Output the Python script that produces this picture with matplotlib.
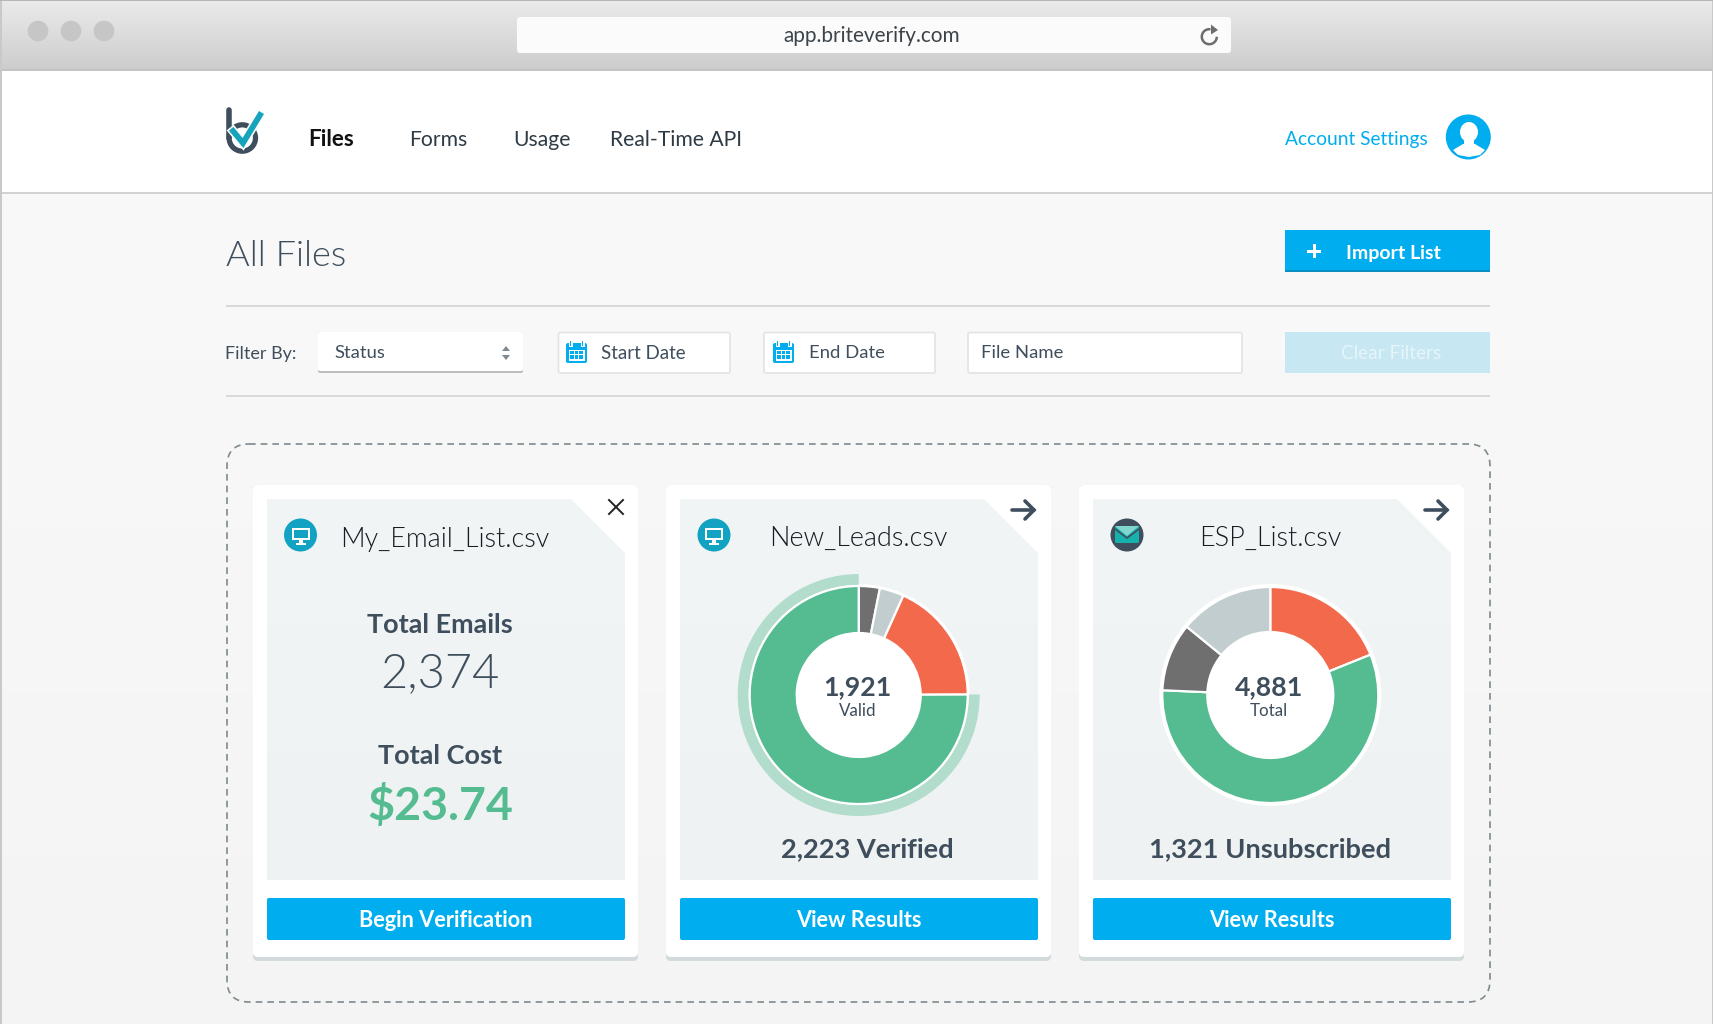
import numpy as np
import matplotlib
matplotlib.use('Agg')
import matplotlib.pyplot as plt
from matplotlib.patches import Rectangle, FancyBboxPatch, Circle, Polygon, Ellipse

plt.rcParams['font.family'] = ['Lato', 'DejaVu Sans']

W = 1713
H = 1024

# chart data
leads_values = [80, 92, 466, 1921]
leads_ring = [1921, 638]
esp_values = [923, 2772, 498, 688]

nav_labels = ['Files', 'Forms', 'Usage', 'Real-Time API']
nav_x = [308, 409, 513, 610]
card_titles = ['My_Email_List.csv', 'New_Leads.csv', 'ESP_List.csv']
card_buttons = ['Begin Verification', 'View Results', 'View Results']

BLUE = '#00aeef'
DARK = '#3f4e5c'
GREEN = '#55bb90'
RING = '#b2dccb'
ORANGE = '#f3694c'
GREY = '#6f6f6f'
LIGHT = '#c1cdcf'

fig = plt.figure(figsize=(W / 100, H / 100), dpi=100)
ax = fig.add_axes([0, 0, 1, 1])
ax.set_xlim(0, W)
ax.set_ylim(H, 0)
ax.axis('off')


def txt(x, y, s, px, color=DARK, ha='left', weight='normal', z=10):
    ax.text(x, y, s, fontsize=px * 0.72, color=color, ha=ha, va='center', fontweight=weight, zorder=z)


def box(x0, y0, x1, y1, color, edge='none', lw=0, r=0, z=2, ls='-'):
    if r:
        p = FancyBboxPatch((x0, y0), x1 - x0, y1 - y0, boxstyle='round,pad=0,rounding_size=%s' % r,
                           fc=color, ec=edge, lw=lw, zorder=z, ls=ls)
    else:
        p = Rectangle((x0, y0), x1 - x0, y1 - y0, fc=color, ec=edge, lw=lw, zorder=z)
    ax.add_patch(p)
    return p


def gradient(x0, y0, x1, y1, c0, c1, z=1, clip=None):
    g = np.linspace(0, 1, 256).reshape(-1, 1)
    rgb0 = np.array(matplotlib.colors.to_rgb(c0))
    rgb1 = np.array(matplotlib.colors.to_rgb(c1))
    img = (rgb0 + (rgb1 - rgb0) * g)[:, None, :]
    im = ax.imshow(img, extent=(x0, x1, y1, y0), aspect='auto', zorder=z, interpolation='bilinear')
    if clip is not None:
        im.set_clip_path(clip)
    ax.set_xlim(0, W)
    ax.set_ylim(H, 0)


def calendar(cx, cy):
    box(cx - 10.5, cy - 9, cx + 10.5, cy + 11, BLUE, r=2, z=5)
    box(cx - 8, cy - 2.5, cx + 8, cy + 8.5, 'white', z=6)
    for gx in [-6, 6]:
        box(cx + gx - 2, cy - 11, cx + gx + 2, cy - 5, 'white', z=6)
        box(cx + gx - 0.9, cy - 11, cx + gx + 0.9, cy - 6, BLUE, z=7)
    for gx in [-4.5, 0, 4.5]:
        for gy in [0.5, 5]:
            box(cx + gx - 1.6, cy + gy - 1.6, cx + gx + 1.6, cy + gy + 1.6, BLUE, z=7)


def monitor(cx, cy):
    ax.add_patch(Circle((cx, cy), 16.5, fc='#12a3c2', ec='none', zorder=5))
    box(cx - 9, cy - 7, cx + 9, cy + 5, 'white', z=6)
    box(cx - 7, cy - 5, cx + 7, cy + 3, '#12a3c2', z=7)
    box(cx - 2, cy + 5, cx + 2, cy + 8, 'white', z=6)
    box(cx - 5, cy + 8, cx + 5, cy + 9.5, 'white', z=6)


def envelope(cx, cy):
    ax.add_patch(Circle((cx, cy), 16.5, fc=DARK, ec='none', zorder=5))
    box(cx - 12, cy - 9, cx + 12, cy + 8, '#16b1ac', r=1.5, z=6)
    ax.add_patch(Polygon([(cx - 12, cy - 9), (cx + 12, cy - 9), (cx, cy + 1)], fc='#7fd6cf', ec='none', zorder=7))
    ax.plot([cx - 12, cx, cx + 12], [cy - 6, cy + 3, cy - 6], color=DARK, lw=1.2, zorder=8)


def arrow(cx, cy):
    ax.plot([cx - 11, cx + 11], [cy, cy], color=DARK, lw=2.6, zorder=6, solid_capstyle='round')
    ax.plot([cx + 2, cx + 11, cx + 2], [cy - 9, cy, cy + 9], color=DARK, lw=2.6, zorder=6,
            solid_capstyle='round', solid_joinstyle='miter')


def donut(cx, cy, values, colors, outer, inner, halo, big, small, ring=None):
    half = 130
    a = fig.add_axes([(cx - half) / W, 1 - (cy + half) / H, 2 * half / W, 2 * half / H], zorder=3)
    a.patch.set_alpha(0)
    if ring is not None:
        a.pie(ring, radius=121, colors=[RING, 'none'], startangle=90, counterclock=True,
              wedgeprops=dict(width=11, linewidth=0))
    a.add_patch(Circle((0, 0), halo, fc='white', ec='none', zorder=0.5))
    a.pie(values, radius=outer, colors=colors, startangle=90, counterclock=False,
          wedgeprops=dict(width=outer - inner, edgecolor='white', linewidth=1.6))
    a.add_patch(Circle((0, 0), inner, fc='white', ec='none', zorder=3))
    a.text(-1, 8, big, fontsize=26.8 * 0.72, color=DARK, ha='center', va='center', fontweight='bold', zorder=5)
    a.text(-1, -16, small, fontsize=17 * 0.72, color=DARK, ha='center', va='center', zorder=5)
    a.set_xlim(-half, half)
    a.set_ylim(-half, half)
    a.set_aspect('equal')
    a.axis('off')


# window chrome
gradient(0, 0, W, 69, '#ebebeb', '#cdcdcd')
box(0, 69, W, 71, '#c4c4c4')
box(0, 71, W, 192, 'white')
box(0, 192, W, 194, '#d2d2d2')
gradient(0, 194, W, H, '#f9f9f9', '#f4f4f4')
box(0, 0, 1.5, H, '#c9c9c9', z=3)
box(W - 1.5, 0, W, H, '#c9c9c9', z=3)
box(0, 0, W, 1, '#b5b5b5', z=3)

for x in [38, 71, 104]:
    ax.add_patch(Circle((x, 31), 10.3, fc='#c6c6c6', ec='none', zorder=3))
box(517, 17, 1231, 53, '#fbfbfb', r=3, z=3)
txt(872, 36, 'app.briteverify.com', 20.8, color='#3c4349', ha='center')
t = np.radians(np.arange(10, 271, 5))
ax.plot(1209.3 + 7.5 * np.cos(t), 36.7 + 7.5 * np.sin(t), color='#6d6d6d', lw=1.8, zorder=5)
ax.add_patch(Polygon([(1211, 24.5), (1218, 30), (1211, 34.5)], fc='#6d6d6d', ec='none', zorder=5))

# logo
ax.plot([229.2, 229.2], [110, 138], color=DARK, lw=4, zorder=4, solid_capstyle='round')
ax.add_patch(Circle((242.3, 138), 13.2, fc='none', ec=DARK, lw=3.8, zorder=4))
ax.plot([233, 243, 260], [131, 143, 115], color='white', lw=6.5, zorder=5, solid_joinstyle='miter')
ax.plot([233, 243, 260], [131, 143, 115], color='#16a4bd', lw=4.2, zorder=6, solid_joinstyle='miter')

# nav
for i, lab in enumerate(nav_labels):
    txt(nav_x[i], 140, lab, 21.2 if i else 22.5, color='#111111' if i == 0 else '#2e3a44', weight='bold' if i == 0 else 'normal')
txt(1285, 140, 'Account Settings', 19.2, color=BLUE)
ax.add_patch(Circle((1468.3, 137), 22.5, fc=BLUE, ec='none', zorder=4))
ax.add_patch(Ellipse((1469, 132), 18, 20, fc='white', ec='none', zorder=5))
box(1464, 138, 1474, 147, 'white', z=5)
ax.add_patch(Polygon([(1453, 150), (1463, 144), (1475, 144), (1485, 150), (1480, 155), (1469, 157), (1458, 155)],
                     fc='white', ec='none', zorder=5))

# title row
txt(226, 256.5, 'All Files', 36.2, color=DARK, weight=300)
box(1285, 230, 1490, 272, BLUE, z=3)
box(1285, 270, 1490, 272, '#0a8fc4', z=4)
box(1307, 249.5, 1321, 252.5, 'white', z=5)
box(1312.5, 244, 1315.5, 258, 'white', z=5)
txt(1393, 253, 'Import List', 19.5, color='white', ha='center', weight='bold')

box(226, 305, 1490, 307, '#d9d9d9')
box(226, 395, 1490, 397, '#d9d9d9')

# filter row
txt(225, 354.5, 'Filter By:', 18, color=DARK)
box(318, 332, 523, 373, '#bdbdbd', r=2)
box(318, 332, 523, 371, 'white', r=2, z=3)
txt(334, 353.5, 'Status', 18.5, color=DARK)
ax.add_patch(Polygon([(502, 351), (510, 351), (506, 346)], fc='#808a92', ec='none', zorder=5))
ax.add_patch(Polygon([(502, 355), (510, 355), (506, 360)], fc='#808a92', ec='none', zorder=5))
box(558.5, 332.5, 730, 373, 'white', edge='#e3e3e3', lw=1.2, r=2)
calendar(576.5, 352)
txt(601, 353.5, 'Start Date', 18.8, color=DARK)
box(764, 332.5, 935, 373, 'white', edge='#e3e3e3', lw=1.2, r=2)
calendar(783.5, 352)
txt(809, 353.5, 'End Date', 18.5, color=DARK)
box(968, 332.5, 1242, 373, 'white', edge='#e3e3e3', lw=1.2, r=2)
txt(981, 353.5, 'File Name', 18.5, color=DARK)
box(1285, 332, 1490, 373, '#c7e7f2', z=3)
txt(1391, 353.5, 'Clear Filters', 19, color='#e6f5fa', ha='center')

# dashed drop zone
box(227, 444, 1490, 1002, 'none', edge='#7e8a8f', lw=1.2, r=22, ls=(0, (4, 3)))

# cards
card_x = [253, 666, 1079]
for i, x0 in enumerate(card_x):
    box(x0, 485, x0 + 385, 961, '#d3dadc', r=5, z=2)
    box(x0, 485, x0 + 385, 957, 'white', r=5, z=2.2)
    px0 = x0 + 14
    px1 = x0 + 372
    panel = Polygon([(px0, 499), (px1 - 54, 499), (px1, 553), (px1, 880), (px0, 880)], fc='none', ec='none', zorder=2.5)
    ax.add_patch(panel)
    gradient(px0, 499, px1, 880, '#f2f5f6', '#eff2f3', z=2.5, clip=panel)
    box(px0, 898, px1, 940, BLUE, r=2, z=3)
    txt(x0 + 193, 920.5, card_buttons[i], 21.8, color='white', ha='center', weight='bold')

# first card
monitor(300.5, 535)
txt(445, 539, card_titles[0], 27, color='#161c22', ha='center', weight=300)
ax.plot([609, 623], [500, 514], color='#222222', lw=1.4, zorder=6)
ax.plot([609, 623], [514, 500], color='#222222', lw=1.4, zorder=6)
txt(440, 625, 'Total Emails', 27, ha='center', weight='bold')
txt(440, 674, '2,374', 47, ha='center', weight=300)
txt(440, 756, 'Total Cost', 27, ha='center', weight='bold')
txt(440, 806, '$23.74', 46.5, color=GREEN, ha='center', weight='bold')

# second card
monitor(714, 535)
arrow(1023, 510)
txt(858, 538, card_titles[1], 27, color='#161c22', ha='center', weight=300)
donut(858.7, 695, leads_values, [GREY, LIGHT, ORANGE, GREEN], 109, 62, 111, '1,921', 'Valid', ring=leads_ring)
txt(867, 849, '2,223 Verified', 27.2, ha='center', weight='bold')

# third card
envelope(1127, 535)
arrow(1436, 510)
txt(1270, 538, card_titles[2], 27, color='#161c22', ha='center', weight=300)
donut(1270.3, 695, esp_values, [ORANGE, GREEN, GREY, LIGHT], 108, 63, 111, '4,881', 'Total')
txt(1270, 849, '1,321 Unsubscribed', 27.2, ha='center', weight='bold')

fig.savefig('out.png', dpi=100)
